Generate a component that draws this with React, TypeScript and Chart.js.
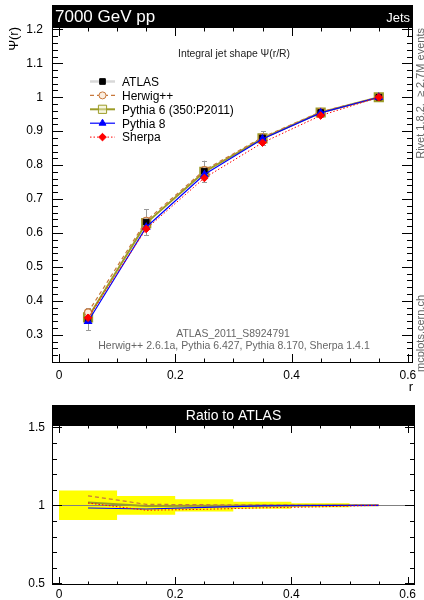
import React, { useEffect, useRef } from "react";
import { Chart, registerables } from "chart.js";
Chart.register(...registerables);

const FONT = "'Liberation Sans', Arial, Helvetica, sans-serif";

// ---- data ----
const rCenters = [0.05, 0.15, 0.25, 0.35, 0.45, 0.55];
const binEdges = [0, 0.1, 0.2, 0.3, 0.4, 0.5, 0.6];
const atlasValues = [0.345, 0.632, 0.782, 0.88, 0.955, 1.0];
const atlasErrors = [0.0325, 0.038, 0.031, 0.02, 0.0125, 0.0];
const herwigValues = [0.366, 0.636, 0.785, 0.882, 0.957, 1.0];
const pythia6Values = [0.351, 0.629, 0.78, 0.879, 0.955, 1.0];
const pythia8Values = [0.339, 0.617, 0.772, 0.877, 0.954, 1.0];
const sherpaValues = [0.35, 0.612, 0.762, 0.866, 0.946, 1.0];

const mainYTicks = [0.3, 0.4, 0.5, 0.6, 0.7, 0.8, 0.9, 1, 1.1, 1.2];
const xTickValues = [0, 0.2, 0.4, 0.6];
const ratioYTicks = [0.5, 1, 1.5];

const seriesLabels = ["ATLAS", "Herwig++", "Pythia 6 (350:P2011)", "Pythia 8", "Sherpa"];

const headerLeft = "7000 GeV pp";
const headerRight = "Jets";
const plotTitle = "Integral jet shape \u03A8(r/R)";
const yTitle = "\u03A8(r)";
const xTitle = "r";
const analysisName = "ATLAS_2011_S8924791";
const generatorsText = "Herwig++ 2.6.1a, Pythia 6.427, Pythia 8.170, Sherpa 1.4.1";
const rivetText = "Rivet 1.8.2,  \u2265 2.7M events";
const siteText = "mcplots.cern.ch";
const ratioTitle = "Ratio to ATLAS";

// ---- helpers ----
function drawMarker(ctx: CanvasRenderingContext2D, style: string, r: number, x: number, y: number, fill: string, stroke: string, lw: number) {
  ctx.beginPath();
  if (style === "circle") {
    ctx.arc(x, y, r, 0, Math.PI * 2);
  } else if (style === "rect") {
    const s = r * Math.SQRT1_2;
    ctx.rect(x - s, y - s, 2 * s, 2 * s);
  } else if (style === "triangle") {
    let a = 0;
    ctx.moveTo(x + Math.sin(a) * r, y - Math.cos(a) * r);
    a += (2 * Math.PI) / 3;
    ctx.lineTo(x + Math.sin(a) * r, y - Math.cos(a) * r);
    a += (2 * Math.PI) / 3;
    ctx.lineTo(x + Math.sin(a) * r, y - Math.cos(a) * r);
    ctx.closePath();
  } else if (style === "rectRot") {
    ctx.moveTo(x, y - r);
    ctx.lineTo(x + r, y);
    ctx.lineTo(x, y + r);
    ctx.lineTo(x - r, y);
    ctx.closePath();
  }
  ctx.fillStyle = fill;
  ctx.fill();
  ctx.lineWidth = lw;
  ctx.strokeStyle = stroke;
  ctx.stroke();
}

function makeFramePlugin(cfg: {
  xMinor: number; xMajor: number; yMinor: number; yMajor: number;
  xLen: [number, number]; yLen: [number, number];
  headerH: number; headerLeft?: string; headerRight?: string; headerCenter?: string;
}) {
  return {
    id: "rivetFrame",
    afterDraw(chart: any) {
      const { ctx, chartArea: a, scales } = chart;
      const xs = scales.x, ys = scales.y;
      ctx.save();
      ctx.strokeStyle = "#000";
      ctx.lineWidth = 1;
      ctx.strokeRect(a.left + 0.5, a.top + 0.5, a.right - a.left - 1, a.bottom - a.top - 1);
      ctx.beginPath();
      const isMajor = (v: number, m: number) => Math.abs(v / m - Math.round(v / m)) < 1e-6;
      let k0 = Math.ceil(xs.min / cfg.xMinor - 1e-6), k1 = Math.floor(xs.max / cfg.xMinor + 1e-6);
      for (let k = k0; k <= k1; k++) {
        const v = k * cfg.xMinor;
        const len = isMajor(v, cfg.xMajor) ? cfg.xLen[0] : cfg.xLen[1];
        const px = Math.round(xs.getPixelForValue(v)) + 0.5;
        ctx.moveTo(px, a.bottom); ctx.lineTo(px, a.bottom - len);
        ctx.moveTo(px, a.top); ctx.lineTo(px, a.top + len);
      }
      k0 = Math.ceil(ys.min / cfg.yMinor - 1e-6); k1 = Math.floor(ys.max / cfg.yMinor + 1e-6);
      for (let k = k0; k <= k1; k++) {
        const v = k * cfg.yMinor;
        const len = isMajor(v, cfg.yMajor) ? cfg.yLen[0] : cfg.yLen[1];
        const py = Math.round(ys.getPixelForValue(v)) + 0.5;
        ctx.moveTo(a.left, py); ctx.lineTo(a.left + len, py);
        ctx.moveTo(a.right, py); ctx.lineTo(a.right - len, py);
      }
      ctx.stroke();
      // header bar
      ctx.fillStyle = "#000";
      ctx.fillRect(a.left, a.top - cfg.headerH, a.right - a.left, cfg.headerH);
      ctx.fillStyle = "#fff";
      ctx.textBaseline = "middle";
      const hy = a.top - cfg.headerH / 2 + 1;
      if (cfg.headerLeft) {
        ctx.font = `17px ${FONT}`;
        ctx.textAlign = "left";
        ctx.fillText(cfg.headerLeft, a.left + 3, hy);
      }
      if (cfg.headerRight) {
        ctx.font = `13px ${FONT}`;
        ctx.textAlign = "right";
        ctx.fillText(cfg.headerRight, a.right - 3, hy + 1);
      }
      if (cfg.headerCenter) {
        ctx.font = `14px ${FONT}`;
        ctx.textAlign = "center";
        ctx.fillText(cfg.headerCenter, (a.left + a.right) / 2, hy);
      }
      ctx.restore();
    },
  };
}

const errorBarPlugin = {
  id: "atlasErrors",
  beforeDatasetsDraw(chart: any) {
    const { ctx, scales } = chart;
    ctx.save();
    ctx.strokeStyle = "#999";
    ctx.lineWidth = 1;
    ctx.beginPath();
    rCenters.forEach((x, i) => {
      const e = atlasErrors[i];
      if (!e) return;
      const px = Math.round(scales.x.getPixelForValue(x)) + 0.5;
      const y1 = scales.y.getPixelForValue(atlasValues[i] + e);
      const y2 = scales.y.getPixelForValue(atlasValues[i] - e);
      ctx.moveTo(px, y1); ctx.lineTo(px, y2);
      ctx.moveTo(px - 2.5, Math.round(y1) + 0.5); ctx.lineTo(px + 2.5, Math.round(y1) + 0.5);
      ctx.moveTo(px - 2.5, Math.round(y2) + 0.5); ctx.lineTo(px + 2.5, Math.round(y2) + 0.5);
    });
    ctx.stroke();
    ctx.restore();
  },
};

const mainTextPlugin = {
  id: "mainTexts",
  afterDraw(chart: any) {
    const { ctx, chartArea: a } = chart;
    ctx.save();
    // title
    ctx.fillStyle = "#222";
    ctx.font = `10.4px ${FONT}`;
    ctx.textAlign = "left";
    ctx.textBaseline = "alphabetic";
    ctx.fillText(plotTitle, 178, 56.5);
    // legend
    const ds = chart.data.datasets;
    ds.forEach((d: any, i: number) => {
      const y = 81.5 + i * 13.9;
      ctx.save();
      ctx.strokeStyle = d.legendLineColor || d.borderColor;
      ctx.lineWidth = d.legendLineWidth || d.borderWidth;
      ctx.setLineDash(d.borderDash || []);
      ctx.beginPath();
      ctx.moveTo(90, y); ctx.lineTo(115, y);
      ctx.stroke();
      ctx.setLineDash([]);
      drawMarker(ctx, d.pointStyle, d.pointRadius, 102.5, y, d.pointBackgroundColor, d.pointBorderColor, 1);
      ctx.restore();
      ctx.fillStyle = "#000";
      ctx.font = `12px ${FONT}`;
      ctx.textAlign = "left";
      ctx.textBaseline = "middle";
      ctx.fillText(d.label, 122, y + 1);
    });
    // footers
    ctx.fillStyle = "#666";
    ctx.textAlign = "center";
    ctx.textBaseline = "middle";
    ctx.font = `10.4px ${FONT}`;
    ctx.fillText(analysisName, 233, 334);
    ctx.font = `10.5px ${FONT}`;
    ctx.fillText(generatorsText, 234, 346);
    // axis titles
    ctx.fillStyle = "#000";
    ctx.font = `13px ${FONT}`;
    ctx.textAlign = "center";
    ctx.textBaseline = "alphabetic";
    ctx.fillText(xTitle, a.right - 2, 391);
    ctx.save();
    ctx.translate(18, 27);
    ctx.rotate(-Math.PI / 2);
    ctx.textAlign = "right";
    ctx.fillText(yTitle, 0, 0);
    ctx.restore();
    // right vertical texts
    ctx.fillStyle = "#666";
    ctx.font = `11px ${FONT}`;
    ctx.save();
    ctx.translate(424, 28);
    ctx.rotate(-Math.PI / 2);
    ctx.textAlign = "right";
    ctx.fillText(rivetText, 0, 0);
    ctx.restore();
    ctx.save();
    ctx.translate(424, 372);
    ctx.rotate(-Math.PI / 2);
    ctx.textAlign = "left";
    ctx.fillText(siteText, 0, 0);
    ctx.restore();
    ctx.restore();
  },
};

function ratioOf(vals: number[]) {
  return rCenters.map((x, i) => ({ x, y: vals[i] / atlasValues[i] }));
}

const relErr = atlasErrors.map((e, i) => e / atlasValues[i]);

const unityLinePlugin = {
  id: "unityLine",
  afterDatasetDraw(chart: any, args: any) {
    if (args.index !== 1) return;
    const { ctx, chartArea: a, scales } = chart;
    const py = Math.round(scales.y.getPixelForValue(1)) + 0.5;
    ctx.save();
    ctx.strokeStyle = "#808080";
    ctx.lineWidth = 1;
    ctx.beginPath();
    ctx.moveTo(a.left, py); ctx.lineTo(a.right, py);
    ctx.stroke();
    ctx.restore();
  },
};

const COL_HW = "#c8783c";
const COL_P6 = "#9c9c28";
const COL_P8 = "#0000ff";
const COL_SH = "#ff0000";

export default function App() {
  const mainRef = useRef<HTMLCanvasElement>(null);
  const ratioRef = useRef<HTMLCanvasElement>(null);

  useEffect(() => {
    Chart.defaults.font.family = FONT;
    Chart.defaults.color = "#000";
    const pts = (vals: number[]) => rCenters.map((x, i) => ({ x, y: vals[i] }));

    const main = new Chart(mainRef.current!, {
      type: "line",
      data: {
        datasets: [
          {
            label: seriesLabels[0], data: pts(atlasValues), showLine: false,
            pointStyle: "rect", pointRadius: 4, pointBackgroundColor: "#000", pointBorderColor: "#000",
            borderColor: "#d8d8d8", borderWidth: 1, legendLineColor: "#d8d8d8", legendLineWidth: 2.5, order: 3,
          } as any,
          {
            label: seriesLabels[1], data: pts(herwigValues), borderColor: COL_HW, borderWidth: 1.2, borderDash: [4, 3],
            pointStyle: "circle", pointRadius: 3.5, pointBackgroundColor: "#fbeee0", pointBorderColor: COL_HW, order: 4,
          },
          {
            label: seriesLabels[2], data: pts(pythia6Values), borderColor: COL_P6, borderWidth: 2,
            pointStyle: "rect", pointRadius: 5.8, pointBackgroundColor: "rgba(238,238,196,0.5)", pointBorderColor: COL_P6, order: 5,
          },
          {
            label: seriesLabels[3], data: pts(pythia8Values), borderColor: COL_P8, borderWidth: 1.2,
            pointStyle: "triangle", pointRadius: 4, pointBackgroundColor: COL_P8, pointBorderColor: COL_P8, order: 2,
          },
          {
            label: seriesLabels[4], data: pts(sherpaValues), borderColor: COL_SH, borderWidth: 1, borderDash: [1.5, 2],
            pointStyle: "rectRot", pointRadius: 3.8, pointBackgroundColor: COL_SH, pointBorderColor: COL_SH, order: 1,
          },
        ],
      },
      options: {
        animation: false,
        responsive: false,
        events: [],
        layout: { padding: { top: 27, right: 11, left: 0, bottom: 0 } },
        plugins: { legend: { display: false }, tooltip: { enabled: false } },
        scales: {
          x: {
            type: "linear", min: -0.012, max: 0.6088,
            grid: { display: false, drawTicks: false }, border: { display: false },
            afterBuildTicks: (s: any) => { s.ticks = xTickValues.map((v) => ({ value: v })); },
            afterFit: (s: any) => { s.height = 37; },
            ticks: { padding: 5, font: { size: 12 }, maxRotation: 0, callback: (v: any) => String(v) },
          },
          y: {
            type: "linear", min: 0.2167, max: 1.207,
            grid: { display: false, drawTicks: false }, border: { display: false },
            afterBuildTicks: (s: any) => { s.ticks = mainYTicks.map((v) => ({ value: v })); },
            afterFit: (s: any) => { s.width = 52; },
            ticks: { padding: 9, font: { size: 12 }, callback: (v: any) => String(v) },
          },
        },
      },
      plugins: [
        errorBarPlugin,
        makeFramePlugin({ xMinor: 0.05, xMajor: 0.2, yMinor: 0.02, yMajor: 0.1, xLen: [9, 4.5], yLen: [11, 6], headerH: 22, headerLeft, headerRight }),
        mainTextPlugin,
      ],
    });

    const bandPoints = (sign: number) =>
      binEdges.map((x, i) => ({ x, y: 1 + sign * relErr[Math.min(i, relErr.length - 1)] }));

    const ratio = new Chart(ratioRef.current!, {
      type: "line",
      data: {
        datasets: [
          { label: "band+", data: bandPoints(1), stepped: "before", borderWidth: 0, pointRadius: 0, fill: false, order: 11 } as any,
          { label: "band-", data: bandPoints(-1), stepped: "before", borderWidth: 0, pointRadius: 0, fill: "-1", backgroundColor: "#ffff00", order: 10 } as any,
          { label: "Herwig++", data: ratioOf(herwigValues), borderColor: COL_HW, borderWidth: 1.2, borderDash: [4, 3], pointRadius: 0, order: 4 },
          { label: "Pythia 6", data: ratioOf(pythia6Values), borderColor: COL_P6, borderWidth: 2, pointRadius: 0, order: 5 },
          { label: "Pythia 8", data: ratioOf(pythia8Values), borderColor: COL_P8, borderWidth: 1.2, pointRadius: 0, order: 2 },
          { label: "Sherpa", data: ratioOf(sherpaValues), borderColor: COL_SH, borderWidth: 1, borderDash: [1.5, 2], pointRadius: 0, order: 1 },
        ],
      },
      options: {
        animation: false,
        responsive: false,
        events: [],
        layout: { padding: { top: 25, right: 9, left: 0, bottom: 0 } },
        plugins: { legend: { display: false }, tooltip: { enabled: false } },
        scales: {
          x: {
            type: "linear", min: -0.012, max: 0.6127,
            grid: { display: false, drawTicks: false }, border: { display: false },
            afterBuildTicks: (s: any) => { s.ticks = xTickValues.map((v) => ({ value: v })); },
            afterFit: (s: any) => { s.height = 15; },
            ticks: { padding: 2, font: { size: 12 }, maxRotation: 0, callback: (v: any) => String(v) },
          },
          y: {
            type: "linear", min: 0.489, max: 1.515,
            grid: { display: false, drawTicks: false }, border: { display: false },
            afterBuildTicks: (s: any) => { s.ticks = ratioYTicks.map((v) => ({ value: v })); },
            afterFit: (s: any) => { s.width = 52; },
            ticks: { padding: 7, font: { size: 12 }, callback: (v: any) => String(v) },
          },
        },
      },
      plugins: [
        unityLinePlugin,
        makeFramePlugin({ xMinor: 0.05, xMajor: 0.2, yMinor: 0.1, yMajor: 0.5, xLen: [8, 3.5], yLen: [10, 5], headerH: 20, headerCenter: ratioTitle }),
      ],
    });

    return () => {
      main.destroy();
      ratio.destroy();
    };
  }, []);

  return (
    <div style={{ position: "fixed", left: 0, top: 0, width: 424, height: 600, background: "#fff" }}>
      <canvas ref={mainRef} width={424} height={400} style={{ position: "absolute", left: 0, top: 0, display: "block" }} />
      <canvas ref={ratioRef} width={424} height={200} style={{ position: "absolute", left: 0, top: 400, display: "block" }} />
    </div>
  );
}
